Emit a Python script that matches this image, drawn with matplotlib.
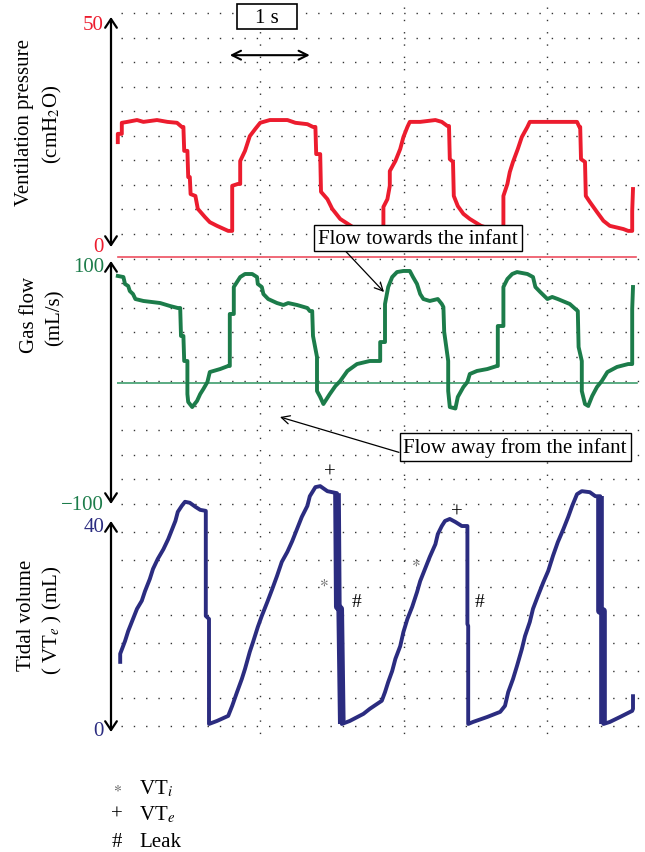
import numpy as np
import matplotlib.pyplot as plt
from matplotlib.patches import Rectangle

plt.rcParams['font.family'] = ['Liberation Serif', 'DejaVu Serif']
plt.rcParams['mathtext.fontset'] = 'stix'

# traces, time in seconds from the left edge
pressure_t = [0.01, 0.01, 0.06, 0.06, 0.13, 0.25, 0.33, 0.50, 0.63, 0.75, 0.81, 0.83, 0.84, 0.88, 0.89,
              0.91, 0.92, 0.98, 1.01, 1.10, 1.16, 1.25, 1.39, 1.44, 1.44, 1.51, 1.54, 1.54, 1.60, 1.66,
              1.73, 1.79, 1.91, 2.13, 2.23, 2.38, 2.45, 2.48, 2.49, 2.54, 2.55, 2.63, 2.69, 2.79, 2.95,
              3.15, 3.33, 3.33, 3.38, 3.41, 3.41, 3.48, 3.54, 3.58, 3.63, 3.66, 3.79, 3.98, 4.06, 4.13,
              4.15, 4.16, 4.20, 4.21, 4.26, 4.33, 4.41, 4.55, 4.75, 4.83, 4.83, 4.88, 4.91, 4.95, 5.01,
              5.06, 5.13, 5.16, 5.38, 5.75, 5.78, 5.79, 5.80, 5.85, 5.86, 5.91, 6.00, 6.08, 6.16, 6.33,
              6.39, 6.44, 6.44, 6.45]
pressure_cmh2o = [22.8, 24.6, 24.6, 27.0, 27.2, 27.6, 27.2, 27.6, 27.2, 27.0, 26.1, 26.1, 20.9, 20.9, 15.2,
                  15.2, 11.5, 11.1, 8.3, 6.5, 5.4, 4.6, 3.5, 3.5, 13.3, 13.7, 13.7, 18.7, 20.9, 24.1,
                  25.7, 27.0, 27.6, 27.6, 27.0, 26.7, 26.1, 26.1, 20.2, 20.2, 12.0, 10.4, 8.3, 6.1, 4.3,
                  3.3, 3.3, 8.7, 10.4, 13.3, 16.5, 18.7, 21.3, 23.9, 26.1, 27.2, 27.2, 27.6, 27.2, 26.3,
                  26.3, 19.1, 18.5, 11.1, 8.9, 7.2, 6.1, 4.6, 3.5, 3.3, 11.1, 13.7, 16.3, 18.5, 21.3,
                  23.9, 26.1, 27.2, 27.2, 27.2, 26.1, 26.1, 19.1, 18.5, 11.1, 9.8, 7.6, 5.7, 4.6, 3.9,
                  3.5, 3.5, 7.8, 12.6]

flow_t = [0.01, 0.08, 0.10, 0.14, 0.16, 0.20, 0.23, 0.33, 0.54, 0.66, 0.76, 0.79, 0.80, 0.83, 0.84, 0.88,
          0.88, 0.89, 0.94, 1.00, 1.04, 1.08, 1.13, 1.16, 1.29, 1.39, 1.41, 1.41, 1.46, 1.46, 1.50, 1.54,
          1.60, 1.69, 1.75, 1.76, 1.81, 1.83, 1.89, 2.00, 2.08, 2.14, 2.25, 2.38, 2.41, 2.44, 2.45, 2.50,
          2.50, 2.54, 2.58, 2.66, 2.73, 2.79, 2.88, 3.00, 3.16, 3.29, 3.29, 3.35, 3.35, 3.39, 3.44, 3.50,
          3.58, 3.66, 3.70, 3.75, 3.79, 3.83, 3.91, 4.01, 4.06, 4.08, 4.09, 4.14, 4.14, 4.16, 4.23, 4.26,
          4.33, 4.38, 4.41, 4.50, 4.63, 4.75, 4.76, 4.76, 4.83, 4.83, 4.88, 4.94, 5.00, 5.13, 5.20, 5.23,
          5.29, 5.38, 5.44, 5.51, 5.66, 5.73, 5.76, 5.77, 5.81, 5.81, 5.85, 5.89, 5.94, 6.00, 6.06, 6.13,
          6.25, 6.39, 6.44, 6.44, 6.45]
flow_mls = [87.7, 86.8, 81.1, 79.4, 75.3, 72.8, 68.7, 67.1, 65.4, 63.0, 61.3, 61.3, 38.3, 38.3, 17.7, 17.7,
            -9.5, -16.0, -20.2, -15.2, -9.5, -5.3, 0.4, 8.6, 11.1, 13.6, 13.6, 56.4, 56.4, 78.6, 82.7, 86.8,
            89.3, 89.3, 86.8, 81.1, 78.6, 72.8, 68.7, 65.4, 63.8, 65.4, 63.8, 61.3, 58.8, 58.8, 38.3, 21.0,
            -7.0, -11.9, -17.7, -9.5, -2.9, 1.2, 9.5, 15.2, 17.7, 17.7, 33.3, 33.3, 64.6, 78.6, 86.8, 90.9,
            91.8, 91.8, 86.8, 81.1, 72.8, 68.7, 67.1, 68.7, 64.6, 62.1, 41.6, 17.7, -7.0, -20.2, -21.4, -11.9,
            -3.7, 0.4, 7.0, 9.5, 11.1, 13.6, 13.6, 46.5, 46.5, 78.6, 85.2, 89.3, 90.9, 89.3, 86.8, 78.6,
            74.5, 68.7, 70.4, 68.7, 64.6, 60.5, 58.8, 29.2, 17.7, -7.0, -17.7, -19.3, -11.1, -3.7, 1.2, 8.6,
            12.8, 15.2, 15.2, 60.5, 78.6]

volume_t = [0.04, 0.04, 0.10, 0.14, 0.20, 0.25, 0.31, 0.35, 0.41, 0.45, 0.51, 0.58, 0.64, 0.69, 0.73, 0.76,
            0.81, 0.85, 0.91, 0.98, 1.04, 1.11, 1.11, 1.15, 1.15, 1.25, 1.39, 1.44, 1.50, 1.56, 1.60, 1.66,
            1.70, 1.76, 1.81, 1.88, 1.94, 2.00, 2.06, 2.13, 2.19, 2.25, 2.31, 2.38, 2.41, 2.48, 2.54, 2.63,
            2.75, 2.76, 2.79, 2.81, 2.91, 3.08, 3.16, 3.31, 3.35, 3.39, 3.44, 3.48, 3.54, 3.58, 3.63, 3.69,
            3.75, 3.79, 3.85, 3.91, 3.98, 4.01, 4.06, 4.10, 4.16, 4.23, 4.31, 4.38, 4.38, 4.39, 4.39, 4.45,
            4.63, 4.79, 4.85, 4.89, 4.95, 5.00, 5.06, 5.10, 5.16, 5.20, 5.26, 5.33, 5.39, 5.45, 5.51, 5.58,
            5.64, 5.69, 5.75, 5.81, 5.91, 5.98, 6.04, 6.04, 6.08, 6.08, 6.16, 6.29, 6.44, 6.45, 6.45]
volume_ml = [12.7, 14.3, 16.8, 18.8, 21.2, 23.2, 24.8, 26.7, 29.1, 31.1, 33.1, 35.0, 37.0, 39.0, 40.6, 42.4,
             43.6, 44.4, 44.2, 43.4, 42.8, 42.6, 21.8, 21.2, 0.4, 1.0, 2.0, 4.0, 6.7, 9.3, 11.3, 14.7,
             16.6, 19.6, 21.8, 24.6, 27.1, 29.7, 32.5, 34.5, 36.6, 39.0, 41.4, 43.6, 45.5, 47.3, 47.5, 46.5,
             46.1, 23.6, 23.2, 0.4, 1.0, 2.4, 3.4, 5.0, 6.7, 8.7, 10.9, 13.3, 15.8, 18.6, 21.2, 23.6,
             26.5, 28.7, 31.1, 33.5, 36.0, 38.0, 39.6, 40.6, 41.0, 40.4, 39.6, 39.6, 20.2, 19.8, 0.4, 0.8,
             1.8, 2.8, 4.0, 6.7, 9.3, 11.9, 15.2, 17.8, 20.6, 23.2, 25.7, 28.5, 30.7, 33.7, 36.4, 39.0,
             41.4, 43.6, 45.9, 46.5, 46.3, 45.5, 45.5, 22.8, 22.8, 0.4, 0.8, 1.8, 3.0, 3.4, 5.9]

# big leak breaths drawn with a heavy vertical trace on the screen
leak_windows = [(2.74, 2.82), (6.03, 6.09)]

RED = '#ec1c2e'
GREEN = '#1c7c4a'
BLUE = '#2b2c80'

W, H = 645, 853
fig = plt.figure(figsize=(W / 100, H / 100), dpi=100)


def px_axes(z):
    # full-figure axes in pixel units, y pointing down
    ax = fig.add_axes([0, 0, 1, 1], zorder=z)
    ax.set_xlim(0, W)
    ax.set_ylim(H, 0)
    ax.axis('off')
    ax.patch.set_alpha(0)
    return ax


def panel(top, bottom, lo, hi):
    ax = fig.add_axes([117 / W, 1 - bottom / H, 528 / W, (bottom - top) / H], zorder=1)
    ax.set_xlim(0, 6.6)
    ax.set_ylim(lo, hi)
    ax.axis('off')
    ax.patch.set_alpha(0)
    return ax


# dotted screen grid
grid_ax = px_axes(0)
dots = dict(color='#333333', lw=1.0, ls=(0, (1, 7.85)))
rows = np.r_[14 + 24.55 * np.arange(21), 505 + 27.75 * np.arange(1, 9)]
for y in rows:
    grid_ax.plot([121, 640], [y, y], **dots)
for x in (260, 404, 547):
    grid_ax.plot([x, x], [8, 735], **dots)
grid_ax.plot([118, 636], [258, 258], color='#ee4f60', lw=1.2)

lw = 2.8
p_ax = panel(18, 248, 0, 50)
p_ax.plot(pressure_t, pressure_cmh2o, color=RED, lw=lw, clip_on=False)
p_ax.annotate('', xy=(1.41, 41.7), xytext=(2.41, 41.7),
              arrowprops=dict(arrowstyle='<->', lw=1.5, mutation_scale=16, shrinkA=0, shrinkB=0))

f_ax = panel(262, 505, -100, 100)
f_ax.axhline(0, xmin=0, xmax=0.985, color='#2e9460', lw=1.1)
f_ax.plot(flow_t, flow_mls, color=GREEN, lw=lw, clip_on=False)

v_ax = panel(525, 727, 0, 40)
v_ax.plot(volume_t, volume_ml, color=BLUE, lw=lw, clip_on=False)
vt = np.array(volume_t)
vv = np.array(volume_ml)
for a, b in leak_windows:
    m = (vt >= a) & (vt <= b)
    v_ax.plot(vt[m], vv[m], color=BLUE, lw=5.5, solid_capstyle='butt', clip_on=False)
for t, v in [(2.66, 50.3), (4.25, 42.4)]:
    v_ax.text(t, v, '+', fontsize=15, ha='center', va='center')
for t, v in [(2.58, 28.7), (3.73, 32.5)]:
    v_ax.text(t, v, r'$\ast$', fontsize=12, color='#666666', ha='center', va='center')
for t, v in [(2.99, 24.6), (4.53, 24.6)]:
    v_ax.text(t, v, '#', fontsize=14, ha='center', va='center')

# overlay: axes arrows, labels, boxes
ov = px_axes(2)
axis_arrow = dict(arrowstyle='<->,head_length=0.45,head_width=0.3', lw=1.6,
                  mutation_scale=14, shrinkA=0, shrinkB=0)
for top, bottom in [(18, 248), (262, 505), (522, 733)]:
    ov.annotate('', xy=(111, top), xytext=(111, bottom), arrowprops=axis_arrow)

fs = 15
tick_labels = [(25, '50', RED), (247, '0', RED), (267, '100', GREEN), (506, '\u2212100', GREEN),
               (528, '40', BLUE), (731, '0', BLUE)]
for y, s, c in tick_labels:
    ov.text(104, y, s, color=c, fontsize=fs, ha='right', va='center')

ylabels = [(25, 122, 'Ventilation pressure'), (52, 124, '(cmH$_2$O)'),
           (30, 315, 'Gas flow'), (55, 318, '(mL/s)'),
           (27, 615, 'Tidal volume'), (52, 620, '( VT$_e$ ) (mL)')]
for x, y, s in ylabels:
    ov.text(x, y, s, rotation=90, fontsize=fs, ha='center', va='center')

ov.add_patch(Rectangle((237, 5), 60, 25, fc='white', ec='black', lw=1.2))
ov.text(267, 18, '1 s', fontsize=fs, ha='center', va='center')

box = dict(boxstyle='square,pad=0.18', fc='white', ec='black', lw=1.0)
ov.annotate('Flow towards the infant', xy=(384, 293), xytext=(418, 239), fontsize=fs,
            ha='center', va='center', bbox=box,
            arrowprops=dict(arrowstyle='->', lw=0.9, shrinkA=0, shrinkB=0, relpos=(0.12, 0)))
ov.annotate('Flow away from the infant', xy=(280, 418), xytext=(515, 448), fontsize=fs,
            ha='center', va='center', bbox=box,
            arrowprops=dict(arrowstyle='->', lw=0.9, shrinkA=0, shrinkB=0, relpos=(0.08, -0.1)))

legend = [(789, r'$\ast$', 'VT$_i$'), (815, '+', 'VT$_e$'), (843, '#', 'Leak')]
for y, sym, lab in legend:
    star = sym == r'$\ast$'
    ov.text(117, y, sym, fontsize=11 if star else 15,
            color='#555555' if star else 'black', ha='center', va='center')
    ov.text(139, y, lab, fontsize=fs, ha='left', va='center')

fig.savefig('out.png', dpi=100)
